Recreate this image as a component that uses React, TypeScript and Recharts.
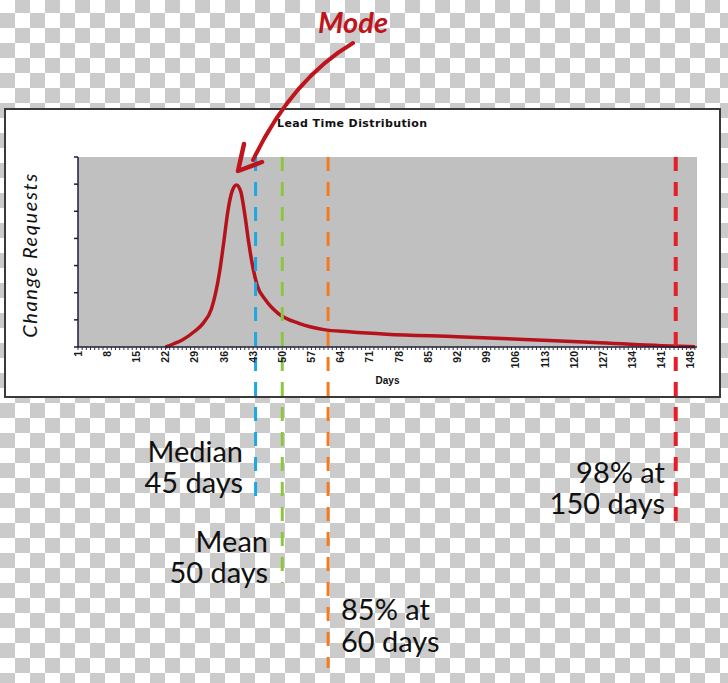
import { CartesianGrid, ComposedChart, Line, ReferenceLine, XAxis, YAxis } from 'recharts'

// lead time curve (day -> change requests)
const DAYS = [22, 24, 26, 29, 31, 33, 35, 36, 37, 38, 39, 40, 41, 42, 43, 44, 46, 49, 54, 60, 66, 75, 92, 108, 125, 141, 149]
const REQUESTS = [0, 1.2, 2.6, 5.8, 8.7, 14, 28, 39, 50.5, 57.5, 59.7, 57.5, 49, 38, 29, 22.7, 17.3, 12.4, 8.7, 6.4, 5.6, 4.7, 3.8, 2.8, 1.7, 0.5, 0.1]

const DAY_LABELS = [1, 8, 15, 22, 29, 36, 43, 50, 57, 64, 71, 78, 85, 92, 99, 106, 113, 120, 127, 134, 141, 148]
const DAY_TICKS = Array.from({ length: 149 }, (_, i) => i + 1)
const Y_TICKS = [0, 10, 20, 30, 40, 50, 60, 70]

const MARKER_NAMES = ['Median', 'Mean', '85%', '98%']
const MARKER_DAYS = [43.6, 50, 61, 144.4]

const MARKER_STYLE = [
  { color: '#1ea8e2', width: 3, drop: 156 },
  { color: '#8cc63f', width: 3, drop: 236 },
  { color: '#f47a20', width: 3, drop: 321 },
  { color: '#e3202a', width: 4, drop: 181 },
]

const data = DAYS.map((day, i) => ({ day, requests: REQUESTS[i] }))

const PLOT_H = 190
const Y_MAX = 70
const pxToUnits = (px: number) => (px / PLOT_H) * Y_MAX

function DayTick({ x, y, payload }: any) {
  if (!DAY_LABELS.includes(payload.value)) return <g />
  return (
    <text
      x={x}
      y={y}
      transform={`rotate(-90 ${x} ${y})`}
      textAnchor="end"
      dy="0.35em"
      fontSize={10.5}
      fontWeight={700}
      fontFamily="'Liberation Sans', Arial, sans-serif"
      fill="#1a1a1a"
    >
      {payload.value}
    </text>
  )
}

const noteStyle = {
  position: 'absolute' as const,
  fontFamily: 'Lato, sans-serif',
  fontSize: 29,
  lineHeight: '31px',
  color: '#111',
  whiteSpace: 'pre' as const,
}

export default function App() {
  return (
    <div
      style={{
        position: 'absolute',
        left: 0,
        top: 0,
        width: 728,
        height: 683,
        overflow: 'hidden',
        backgroundColor: '#fff',
        backgroundImage: 'repeating-conic-gradient(#cbcbcb 0% 25%, #ffffff 0% 50%)',
        backgroundSize: '30px 30px',
        backgroundPosition: '0 -2px',
      }}
    >
      <div
        style={{
          position: 'absolute',
          left: 4,
          top: 108,
          width: 713,
          height: 286,
          background: '#fff',
          border: '2px solid #3a3a3a',
        }}
      />
      <div
        style={{
          position: 'absolute',
          left: 277,
          top: 117,
          fontFamily: "'DejaVu Sans', Verdana, sans-serif",
          fontWeight: 700,
          fontSize: 11,
          letterSpacing: 0.4,
          color: '#111',
          whiteSpace: 'nowrap',
        }}
      >
        Lead Time Distribution
      </div>
      <div
        style={{
          position: 'absolute',
          left: 29,
          top: 255,
          transform: 'translate(-50%, -50%) rotate(-90deg)',
          fontFamily: 'Lato, sans-serif',
          fontStyle: 'italic',
          fontSize: 20,
          letterSpacing: 1.6,
          color: '#111',
          whiteSpace: 'nowrap',
        }}
      >
        Change Requests
      </div>

      <div style={{ position: 'absolute', left: 0, top: 0 }}>
        <ComposedChart width={728} height={683} data={data} margin={{ top: 157, right: 31, bottom: 296, left: 68 }}>
          <CartesianGrid horizontal={false} vertical={false} fill="#c0c0c0" stroke="none" />
          <XAxis
            dataKey="day"
            type="number"
            domain={[1, 149.5]}
            ticks={DAY_TICKS}
            interval={0}
            allowDataOverflow
            height={40}
            tickSize={3}
            tickMargin={1}
            tick={DayTick}
            tickLine={{ stroke: '#333' }}
            axisLine={{ stroke: '#1c1c3a', strokeWidth: 1.5 }}
            label={{
              value: 'Days',
              position: 'insideBottom',
              offset: 3,
              fontSize: 10,
              fontWeight: 700,
              fill: '#111',
              fontFamily: "'Liberation Sans', Arial, sans-serif",
            }}
          />
          <YAxis
            type="number"
            domain={[0, Y_MAX]}
            ticks={Y_TICKS}
            interval={0}
            width={10}
            tick={() => <g />}
            tickSize={4}
            tickLine={{ stroke: '#1c1c3a', strokeWidth: 1.5 }}
            axisLine={{ stroke: '#1c1c3a', strokeWidth: 1.5 }}
          />
          <Line
            type="monotone"
            dataKey="requests"
            stroke="#b5121b"
            strokeWidth={3.5}
            dot={false}
            isAnimationActive={false}
          />
          {MARKER_DAYS.map((d, i) => (
            <ReferenceLine
              key={MARKER_NAMES[i]}
              segment={[
                { x: d, y: Y_MAX },
                { x: d, y: -pxToUnits(MARKER_STYLE[i].drop) },
              ]}
              ifOverflow="visible"
              stroke={MARKER_STYLE[i].color}
              strokeWidth={MARKER_STYLE[i].width}
              strokeDasharray="14 11"
            />
          ))}
        </ComposedChart>
      </div>

      <svg width={728} height={683} style={{ position: 'absolute', left: 0, top: 0, pointerEvents: 'none' }}>
        <path d="M353 43 Q292 79 253 160" fill="none" stroke="#c0141c" strokeWidth={4} strokeLinecap="round" />
        <polyline
          points="244,144 238,171 262,162"
          fill="none"
          stroke="#c0141c"
          strokeWidth={4.5}
          strokeLinecap="round"
          strokeLinejoin="round"
        />
        <text
          x={318}
          y={33}
          fontFamily="Lato, sans-serif"
          fontStyle="italic"
          fontWeight={700}
          fontSize={29}
          fill="#c0141c"
        >
          Mode
        </text>
      </svg>

      <div style={{ ...noteStyle, right: 728 - 243, top: 435, textAlign: 'right' }}>{'Median\n45 days'}</div>
      <div style={{ ...noteStyle, right: 728 - 268, top: 525, textAlign: 'right' }}>{'Mean\n50 days'}</div>
      <div style={{ ...noteStyle, left: 341, top: 593, lineHeight: '32px' }}>{'85% at\n60 days'}</div>
      <div style={{ ...noteStyle, right: 728 - 665, top: 456, textAlign: 'right' }}>{'98% at\n150 days'}</div>
    </div>
  )
}
